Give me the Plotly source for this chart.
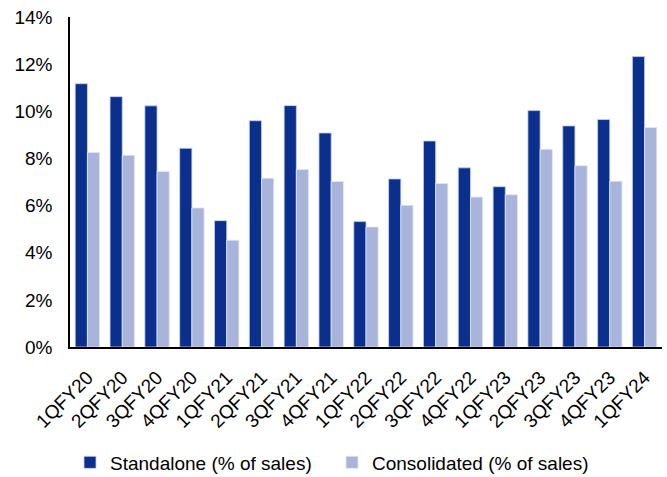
import plotly.graph_objects as go

quarters = ["1QFY20", "2QFY20", "3QFY20", "4QFY20", "1QFY21", "2QFY21", "3QFY21", "4QFY21",
            "1QFY22", "2QFY22", "3QFY22", "4QFY22", "1QFY23", "2QFY23", "3QFY23", "4QFY23", "1QFY24"]
standalone = [11.17, 10.62, 10.23, 8.43, 5.36, 9.60, 10.24, 9.08,
              5.32, 7.13, 8.74, 7.60, 6.80, 10.03, 9.38, 9.65, 12.32]
consolidated = [8.25, 8.13, 7.45, 5.90, 4.53, 7.16, 7.53, 7.02,
                5.09, 6.01, 6.94, 6.36, 6.46, 8.39, 7.69, 7.03, 9.31]
y_ticks = [0, 2, 4, 6, 8, 10, 12, 14]
y_tick_labels = [f"{v}%" for v in y_ticks]

fig = go.Figure()
fig.add_trace(go.Bar(x=quarters, y=standalone, name="Standalone (% of sales)",
                     marker=dict(color="#0A2F8C", line=dict(color="#C8D0EA", width=0.8))))
fig.add_trace(go.Bar(x=quarters, y=consolidated, name="Consolidated (% of sales)",
                     marker=dict(color="#A9B4DA", line=dict(color="#E2E6F4", width=0.8))))

fig.update_layout(
    width=667, height=477,
    margin=dict(l=70, r=5, t=17, b=130, autoexpand=False),
    paper_bgcolor="white", plot_bgcolor="white",
    font=dict(family="Liberation Sans, Arial, sans-serif", color="#000000", size=19),
    barmode="group", bargap=0.30, bargroupgap=0,
    showlegend=True,
    legend=dict(orientation="h", x=0.0, xanchor="left", y=-0.35, yanchor="middle",
                font=dict(size=19), itemwidth=30, traceorder="normal",
                entrywidth=217, entrywidthmode="pixels"),
    xaxis=dict(tickangle=-45, showline=True, linecolor="black", linewidth=2,
               ticks="", showgrid=False, tickfont=dict(size=19), automargin=False,
               ticklabelstandoff=10),
    yaxis=dict(range=[0, 14], tickvals=y_ticks, ticktext=y_tick_labels,
               showline=True, linecolor="black", linewidth=1.5, ticks="",
               showgrid=False, zeroline=False, ticklabelstandoff=12,
               tickfont=dict(size=19), automargin=False),
)

fig.write_html("out.html")
